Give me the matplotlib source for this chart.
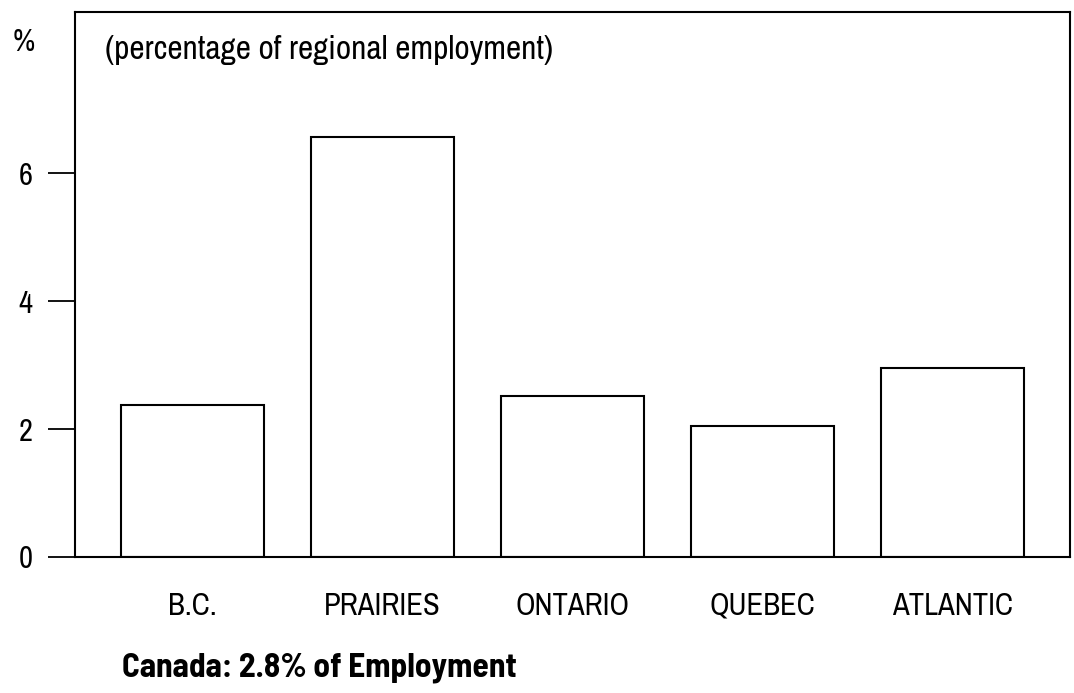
import numpy as np
import matplotlib
matplotlib.use("Agg")
import matplotlib.pyplot as plt

# data
regions = ["B.C.", "PRAIRIES", "ONTARIO", "QUEBEC", "ATLANTIC"]
shares = [2.38, 6.56, 2.52, 2.05, 2.95]
y_ticks = [0, 2, 4, 6]

plt.rcParams['font.family'] = ['Liberation Sans Narrow', 'Archivo Narrow', 'DejaVu Sans']

fig = plt.figure(figsize=(10.74, 6.93), dpi=100)
ax = fig.add_axes([0.0698, 0.1963, 0.9265, 0.7864])

x = np.arange(len(regions))
ax.bar(x, shares, width=0.75, facecolor="white", edgecolor="black", linewidth=1.5)

ax.set_xlim(-0.618, 4.618)
ax.set_ylim(0, 8.52)
ax.set_xticks(x)
ax.set_xticklabels(regions, fontsize=22)
ax.set_yticks(y_ticks)
ax.set_yticklabels([str(v) for v in y_ticks], fontsize=22)
ax.tick_params(axis="x", length=0, pad=25)
ax.tick_params(axis="y", length=19.5, width=1.3, pad=11, direction="out")
for s in ax.spines.values():
    s.set_linewidth(1.5)

ax.text(0.03, 0.93, "(percentage of regional employment)", transform=ax.transAxes,
        fontsize=24, va="center", ha="left")
fig.text(0.012, 0.94, "%", fontsize=22, va="center", ha="left")
fig.text(0.114, 0.036, "Canada: 2.8% of Employment", fontsize=24, fontweight="bold",
         family=['Barlow Semi Condensed', 'Asap Condensed', 'DejaVu Sans'],
         va="center", ha="left")

fig.savefig("out.png", dpi=100)
